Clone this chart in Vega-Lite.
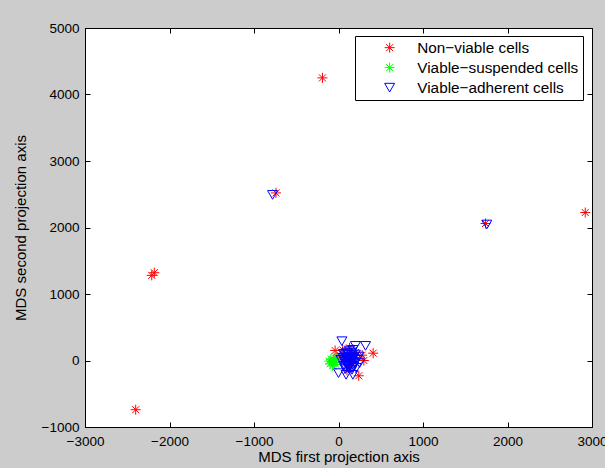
{
  "$schema": "https://vega.github.io/schema/vega-lite/v6.json",
  "autosize": {"type": "none"},
  "width": 507,
  "height": 399,
  "padding": {"left": 85, "top": 28, "right": 13, "bottom": 41},
  "background": "#cccccc",
  "config": {
    "view": {"fill": "white", "stroke": "black", "strokeWidth": 1},
    "font": "Liberation Sans",
    "axis": {"grid": false, "labelFlush": false, "labelOverlap": false, "domainColor": "black", "tickColor": "black", "labelColor": "black", "titleColor": "black", "labelFontSize": 13.5, "titleFontSize": 15, "titleFontWeight": "normal", "labelFont": "Liberation Sans", "titleFont": "Liberation Sans"}
  },
  "data": {"values": [
    {"x": -2400, "y": -740, "g": "Non−viable cells"},
    {"x": -2210, "y": 1280, "g": "Non−viable cells"},
    {"x": -2180, "y": 1320, "g": "Non−viable cells"},
    {"x": -740, "y": 2520, "g": "Non−viable cells"},
    {"x": -190, "y": 4250, "g": "Non−viable cells"},
    {"x": 1740, "y": 2060, "g": "Non−viable cells"},
    {"x": 2920, "y": 2225, "g": "Non−viable cells"},
    {"x": -40, "y": 150, "g": "Non−viable cells"},
    {"x": 50, "y": 160, "g": "Non−viable cells"},
    {"x": 130, "y": 190, "g": "Non−viable cells"},
    {"x": 410, "y": 110, "g": "Non−viable cells"},
    {"x": 300, "y": 0, "g": "Non−viable cells"},
    {"x": 240, "y": -230, "g": "Non−viable cells"},
    {"x": 60, "y": 60, "g": "Non−viable cells"},
    {"x": 200, "y": 120, "g": "Non−viable cells"},
    {"x": 150, "y": -100, "g": "Non−viable cells"},
    {"x": -20, "y": 50, "g": "Non−viable cells"},
    {"x": 280, "y": 80, "g": "Non−viable cells"},
    {"x": 100, "y": -150, "g": "Non−viable cells"},
    {"x": 180, "y": 30, "g": "Non−viable cells"},
    {"x": -80, "y": -20, "g": "Viable−suspended cells"},
    {"x": -100, "y": -50, "g": "Viable−suspended cells"},
    {"x": -60, "y": 10, "g": "Viable−suspended cells"},
    {"x": -30, "y": -60, "g": "Viable−suspended cells"},
    {"x": -90, "y": 20, "g": "Viable−suspended cells"},
    {"x": -50, "y": -30, "g": "Viable−suspended cells"},
    {"x": -70, "y": -80, "g": "Viable−suspended cells"},
    {"x": -20, "y": 20, "g": "Viable−suspended cells"},
    {"x": -110, "y": -10, "g": "Viable−suspended cells"},
    {"x": -40, "y": 40, "g": "Viable−suspended cells"},
    {"x": -780, "y": 2490, "g": "Viable−adherent cells"},
    {"x": 1755, "y": 2045, "g": "Viable−adherent cells"},
    {"x": 40, "y": 290, "g": "Viable−adherent cells"},
    {"x": 200, "y": 220, "g": "Viable−adherent cells"},
    {"x": 320, "y": 220, "g": "Viable−adherent cells"},
    {"x": 0, "y": -190, "g": "Viable−adherent cells"},
    {"x": 90, "y": -215, "g": "Viable−adherent cells"},
    {"x": 170, "y": -215, "g": "Viable−adherent cells"},
    {"x": 60, "y": 100, "g": "Viable−adherent cells"},
    {"x": 100, "y": 120, "g": "Viable−adherent cells"},
    {"x": 150, "y": 110, "g": "Viable−adherent cells"},
    {"x": 200, "y": 90, "g": "Viable−adherent cells"},
    {"x": 240, "y": 60, "g": "Viable−adherent cells"},
    {"x": 50, "y": 40, "g": "Viable−adherent cells"},
    {"x": 90, "y": 50, "g": "Viable−adherent cells"},
    {"x": 130, "y": 60, "g": "Viable−adherent cells"},
    {"x": 180, "y": 40, "g": "Viable−adherent cells"},
    {"x": 220, "y": 10, "g": "Viable−adherent cells"},
    {"x": 70, "y": -20, "g": "Viable−adherent cells"},
    {"x": 110, "y": -10, "g": "Viable−adherent cells"},
    {"x": 150, "y": 0, "g": "Viable−adherent cells"},
    {"x": 190, "y": -30, "g": "Viable−adherent cells"},
    {"x": 60, "y": -80, "g": "Viable−adherent cells"},
    {"x": 100, "y": -70, "g": "Viable−adherent cells"},
    {"x": 140, "y": -60, "g": "Viable−adherent cells"},
    {"x": 180, "y": -90, "g": "Viable−adherent cells"},
    {"x": 80, "y": -130, "g": "Viable−adherent cells"},
    {"x": 120, "y": -120, "g": "Viable−adherent cells"},
    {"x": 160, "y": -140, "g": "Viable−adherent cells"},
    {"x": 210, "y": -110, "g": "Viable−adherent cells"},
    {"x": 30, "y": 10, "g": "Viable−adherent cells"},
    {"x": 250, "y": -40, "g": "Viable−adherent cells"},
    {"x": 130, "y": 150, "g": "Viable−adherent cells"},
    {"x": 170, "y": 160, "g": "Viable−adherent cells"},
    {"x": 80, "y": 80, "g": "Viable−adherent cells"},
    {"x": 120, "y": 90, "g": "Viable−adherent cells"},
    {"x": 160, "y": 80, "g": "Viable−adherent cells"},
    {"x": 75, "y": 20, "g": "Viable−adherent cells"},
    {"x": 115, "y": 30, "g": "Viable−adherent cells"},
    {"x": 155, "y": 35, "g": "Viable−adherent cells"},
    {"x": 200, "y": 20, "g": "Viable−adherent cells"},
    {"x": 90, "y": -40, "g": "Viable−adherent cells"},
    {"x": 130, "y": -30, "g": "Viable−adherent cells"},
    {"x": 170, "y": -20, "g": "Viable−adherent cells"},
    {"x": 80, "y": -100, "g": "Viable−adherent cells"},
    {"x": 120, "y": -90, "g": "Viable−adherent cells"},
    {"x": 160, "y": -110, "g": "Viable−adherent cells"},
    {"x": 100, "y": 10, "g": "Viable−adherent cells"},
    {"x": 140, "y": 20, "g": "Viable−adherent cells"},
    {"x": 120, "y": -50, "g": "Viable−adherent cells"}
  ]},
  "layer": [
    {
      "mark": {"type": "point", "filled": false, "strokeWidth": 1, "opacity": 1},
      "encoding": {
        "x": {"field": "x", "type": "quantitative", "scale": {"domain": [-3000, 3000], "nice": false, "zero": false},
          "axis": {"values": [-3000, -2000, -1000, 0, 1000, 2000, 3000], "format": "d", "tickSize": -5, "labelPadding": 12, "title": "MDS first projection axis", "titlePadding": 2, "domain": false}},
        "y": {"field": "y", "type": "quantitative", "scale": {"domain": [-1000, 5000], "nice": false, "zero": false},
          "axis": {"values": [-1000, 0, 1000, 2000, 3000, 4000, 5000], "format": "d", "tickSize": -5, "labelPadding": 11, "title": "MDS second projection axis", "titlePadding": 13, "domain": false}},
        "color": {"field": "g", "type": "nominal",
          "scale": {"domain": ["Non−viable cells", "Viable−suspended cells", "Viable−adherent cells"], "range": ["#ff0000", "#00ff00", "#0000ff"]},
          "legend": {"title": null, "orient": "none", "legendX": 270, "legendY": 8, "fillColor": "white", "strokeColor": "black", "padding": 4, "labelFontSize": 15.3, "labelFont": "Liberation Sans", "labelColor": "black", "symbolOffset": 23, "labelOffset": 20, "rowPadding": 4, "labelLimit": 300, "symbolStrokeWidth": 1}},
        "shape": {"field": "g", "type": "nominal",
          "scale": {"domain": ["Non−viable cells", "Viable−suspended cells", "Viable−adherent cells"], "range": ["M0,-1L0,1M-1,0L1,0M-0.7,-0.7L0.7,0.7M-0.7,0.7L0.7,-0.7", "M0,-1L0,1M-1,0L1,0M-0.7,-0.7L0.7,0.7M-0.7,0.7L0.7,-0.7", "triangle-down"]}},
        "size": {"value": 100}
      }
    },
    {
      "mark": {"type": "point", "opacity": 0},
      "encoding": {
        "x": {"field": "x", "type": "quantitative", "axis": {"orient": "top", "values": [-3000, -2000, -1000, 0, 1000, 2000, 3000], "tickSize": -5, "labels": false, "title": null, "domain": false}},
        "y": {"field": "y", "type": "quantitative", "axis": {"orient": "right", "values": [-1000, 0, 1000, 2000, 3000, 4000, 5000], "tickSize": -5, "labels": false, "title": null, "domain": false}}
      }
    }
  ],
  "resolve": {"axis": {"x": "independent", "y": "independent"}}
}
